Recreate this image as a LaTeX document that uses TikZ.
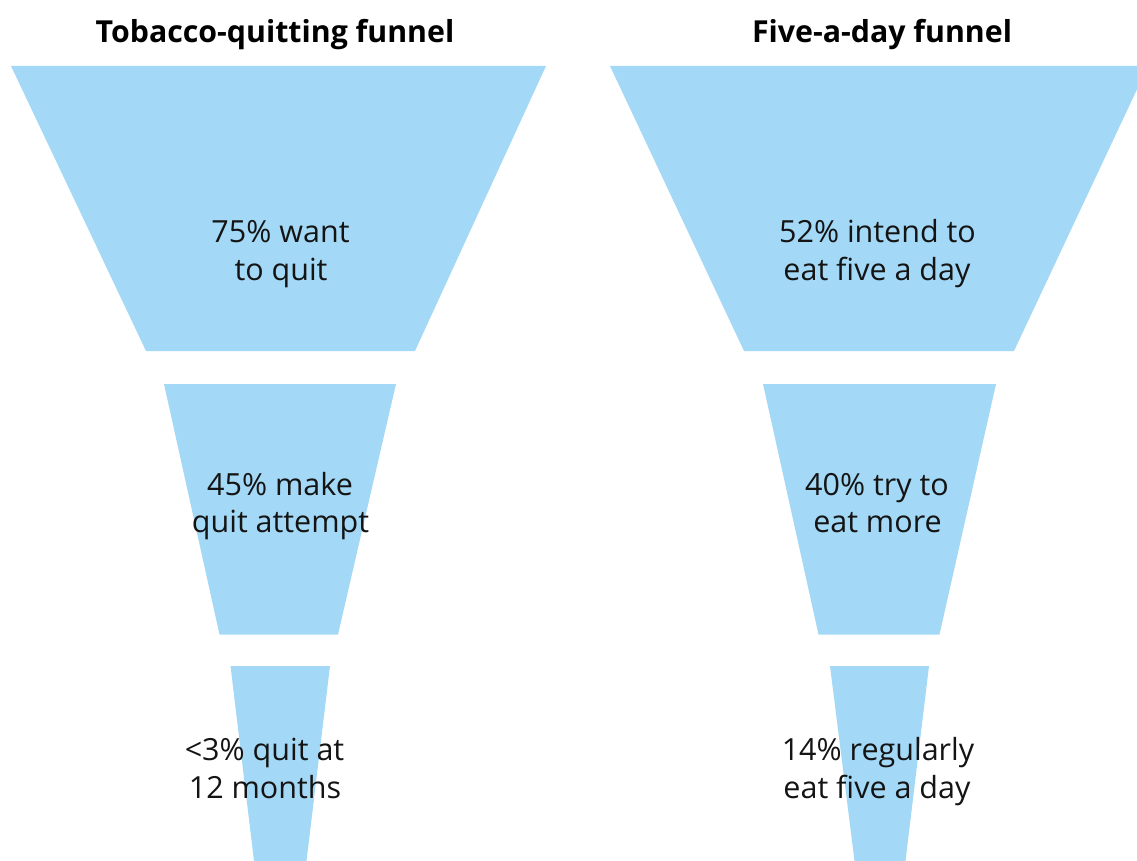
\documentclass[tikz,border=0pt]{standalone}
\usepackage{fontspec}
\setmainfont{Open Sans}
\definecolor{funnelblue}{RGB}{163,217,246}
\definecolor{txt}{RGB}{20,20,20}
\begin{document}
\begin{tikzpicture}[x=1pt,y=-1pt,
  funnel/.style={fill=funnelblue},
  label/.style={anchor=base,inner sep=0pt,text=txt,font=\fontsize{30.5}{38}\selectfont},
  title/.style={anchor=base,inner sep=0pt,text=black,font=\fontsize{30.3}{36}\selectfont\bfseries}]
\useasboundingbox (0,0) rectangle (1137,861);
\clip (0,0) rectangle (1137,861);
% left funnel
\fill[funnel] (11,66) -- (546,66) -- (415,351) -- (146,351) -- cycle;
\fill[funnel] (164,384) -- (396,384) -- (338,634.5) -- (219.5,634.5) -- cycle;
\fill[funnel] (230.5,666) -- (330,666) -- (306.5,861) -- (254,861) -- cycle;
% right funnel
\fill[funnel] (610,66) -- (1148,66) -- (1014,351) -- (744,351) -- cycle;
\fill[funnel] (763,384) -- (996,384) -- (939.5,634.5) -- (818.5,634.5) -- cycle;
\fill[funnel] (830,666) -- (929,666) -- (905.5,861) -- (854.5,861) -- cycle;
% titles
\node[title] (t1) at (275,42.5) {Tobacco-quitting funnel};
\node[title] (t2) at (882,42.5) {Five-a-day funnel};
% labels
\node[label] (a1) at (280.5,242.5) {75\% want};
\node[label] (a2) at (281,280) {to quit};
\node[label] (b1) at (280,495.5) {45\% make};
\node[label] (b2) at (280.5,532.7) {quit attempt};
\node[label] (c1) at (264.5,760) {<3\% quit at};
\node[label] (c2) at (265,798) {12 months};
\node[label] (d1) at (877.5,242.5) {52\% intend to};
\node[label] (d2) at (877,280) {eat five a day};
\node[label] (e1) at (877,495.5) {40\% try to};
\node[label] (e2) at (877.5,532.7) {eat more};
\node[label] (f1) at (878,760) {14\% regularly};
\node[label] (f2) at (877,798) {eat five a day};
\end{tikzpicture}
\end{document}
